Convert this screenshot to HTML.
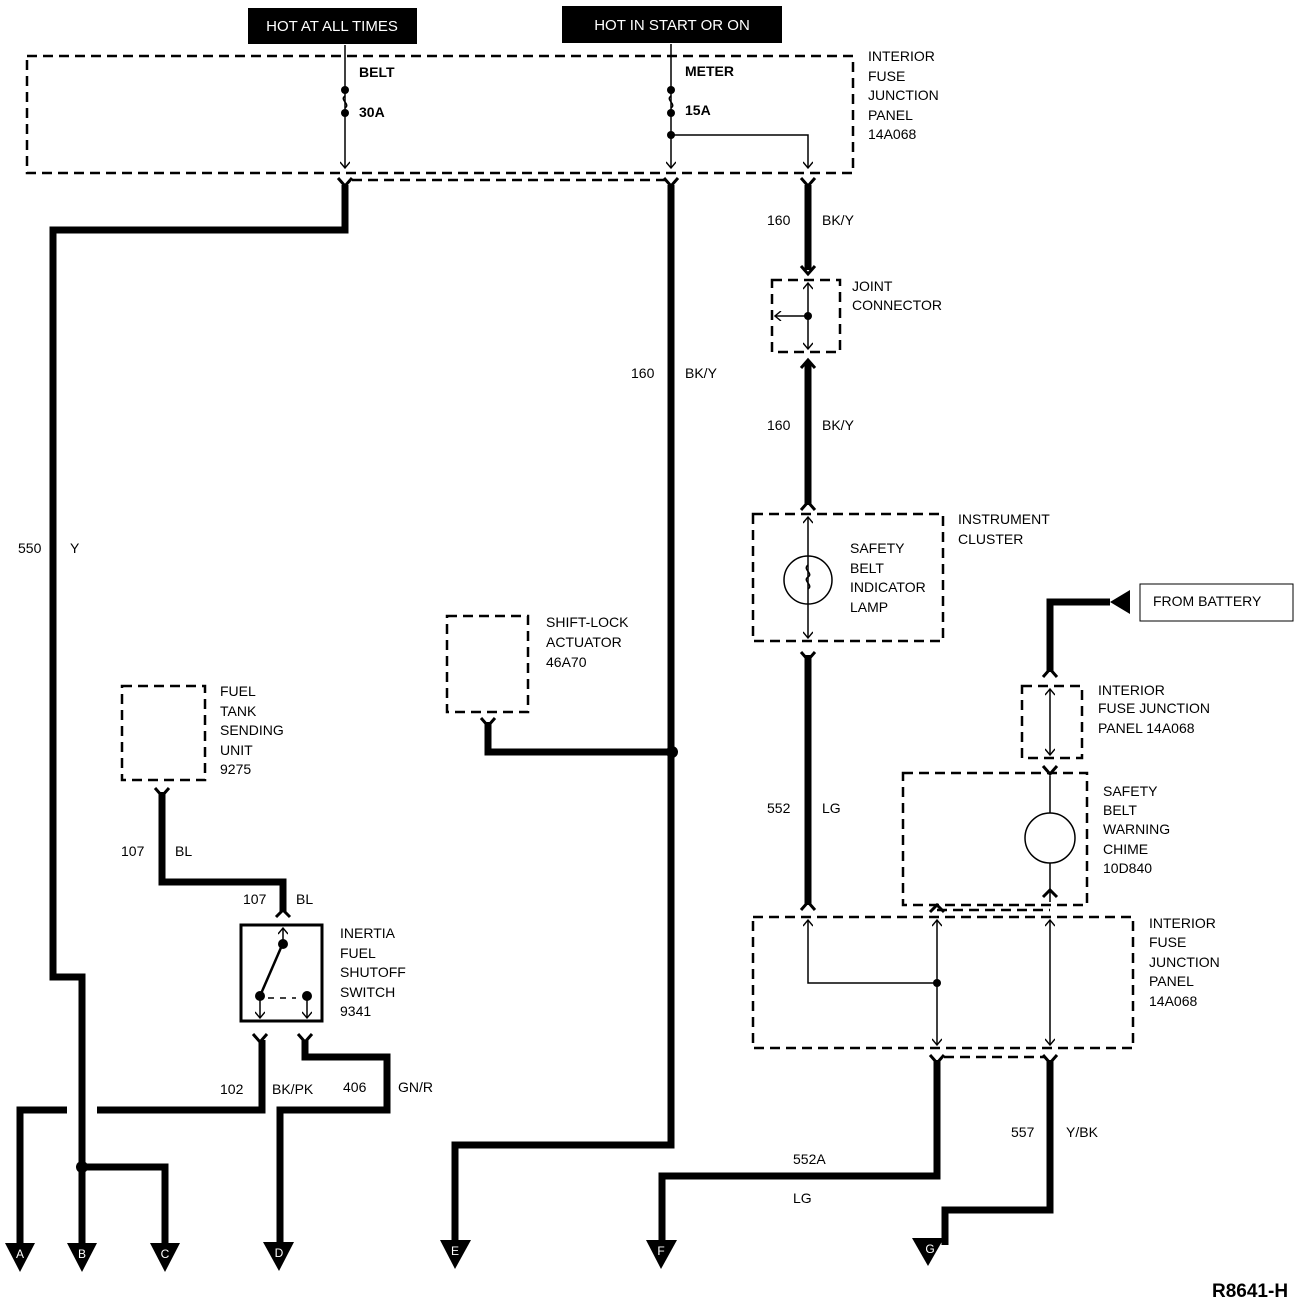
<!DOCTYPE html>
<html><head><style>
body{margin:0;background:#fff}
svg{display:block}
text{font-family:"Liberation Sans",Arial,sans-serif;font-size:14px;fill:#000}
</style></head><body>
<svg width="1312" height="1306" viewBox="0 0 1312 1306" xmlns="http://www.w3.org/2000/svg">
<defs>
<marker id="ah" viewBox="0 0 10 10" refX="9" refY="5" markerWidth="10" markerHeight="10" markerUnits="userSpaceOnUse" orient="auto"><path d="M3,0 L9,5 L3,10" fill="none" stroke="#000" stroke-width="1.4"/></marker>
</defs>
<g fill="#000">
<rect x="248" y="8" width="169" height="36"/>
<rect x="562" y="6" width="220" height="37"/>
</g>
<text x="332" y="31" text-anchor="middle" style="fill:#fff;font-size:15px">HOT AT ALL TIMES</text>
<text x="672" y="30" text-anchor="middle" style="fill:#fff;font-size:15px">HOT IN START OR ON</text>

<g fill="none" stroke="#000" stroke-width="2.5" stroke-dasharray="10,6">
<rect x="27" y="56" width="826" height="117"/>
<line x1="352" y1="180" x2="665" y2="180"/>
<rect x="772" y="280" width="68" height="72"/>
<rect x="753" y="514" width="190" height="127"/>
<rect x="447" y="616" width="81" height="96"/>
<rect x="122" y="686" width="83" height="94"/>
<rect x="1022" y="686" width="60" height="72"/>
<rect x="903" y="773" width="184" height="132"/>
<rect x="753" y="917" width="380" height="131"/>
<line x1="937" y1="910" x2="1050" y2="910"/>
<line x1="944" y1="1057" x2="1044" y2="1057"/>
</g>

<g fill="none" stroke="#000" stroke-width="1.5">
<line x1="345" y1="45" x2="345" y2="168" marker-end="url(#ah)"/>
<line x1="671" y1="44" x2="671" y2="168" marker-end="url(#ah)"/>
<path d="M671,135 H808 V168" marker-end="url(#ah)"/>
<path d="M345,96 c-6,4 6,8 0,12" />
<path d="M671,96 c-6,4 6,8 0,12" />
<line x1="808" y1="316" x2="808" y2="283" marker-end="url(#ah)"/>
<line x1="808" y1="316" x2="808" y2="349" marker-end="url(#ah)"/>
<line x1="808" y1="316" x2="775" y2="316" marker-end="url(#ah)"/>
<line x1="808" y1="580" x2="808" y2="517" marker-end="url(#ah)"/>
<line x1="808" y1="580" x2="808" y2="638" marker-end="url(#ah)"/>
<circle cx="808" cy="580" r="24"/>
<path d="M808,565 c-6,5 6,8 0,12 c-6,4 6,8 0,12"/>
<line x1="1050" y1="722" x2="1050" y2="689" marker-end="url(#ah)"/>
<line x1="1050" y1="722" x2="1050" y2="755" marker-end="url(#ah)"/>
<line x1="1050" y1="776" x2="1050" y2="813"/>
<line x1="1050" y1="863" x2="1050" y2="902"/>
<circle cx="1050" cy="838" r="25"/>
<path d="M937,983 H808 V920" marker-end="url(#ah)"/>
<line x1="937" y1="983" x2="937" y2="920" marker-end="url(#ah)"/>
<line x1="937" y1="983" x2="937" y2="1045" marker-end="url(#ah)"/>
<line x1="1050" y1="983" x2="1050" y2="920" marker-end="url(#ah)"/>
<line x1="1050" y1="983" x2="1050" y2="1045" marker-end="url(#ah)"/>
<line x1="283" y1="943" x2="283" y2="928" marker-end="url(#ah)"/>
<line x1="260" y1="996" x2="260" y2="1018" marker-end="url(#ah)"/>
<line x1="307" y1="996" x2="307" y2="1018" marker-end="url(#ah)"/>
<line x1="260" y1="996" x2="283" y2="943" stroke-width="2.5"/>
<line x1="268" y1="998" x2="296" y2="998" stroke-dasharray="6,6"/>
</g>
<rect x="241" y="925" width="81" height="96" fill="none" stroke="#000" stroke-width="3"/>
<rect x="1140" y="584" width="153" height="37" fill="none" stroke="#000" stroke-width="1"/>

<g fill="#000">
<circle cx="345" cy="90" r="4"/><circle cx="345" cy="113" r="4"/>
<circle cx="671" cy="90" r="4"/><circle cx="671" cy="113" r="4"/><circle cx="671" cy="135" r="4"/>
<circle cx="808" cy="316" r="4"/>
<circle cx="937" cy="983" r="4"/>
<circle cx="283" cy="944" r="5"/><circle cx="260" cy="996" r="5"/><circle cx="307" cy="996" r="5"/>
<circle cx="672" cy="752" r="6"/>
<circle cx="82" cy="1167" r="6"/>
<path d="M1110,602 L1130,590 L1130,614 Z"/>
</g>

<g fill="none" stroke="#000" stroke-width="7" stroke-linejoin="miter">
<path d="M345,185 V230 H53 V977 H82 V1245"/>
<path d="M82,1167 H165 V1245"/>
<path d="M20,1245 V1110 H67"/>
<path d="M97,1110 H262 V1040"/>
<path d="M305,1040 V1057 H387 V1110 H280 V1245"/>
<path d="M671,185 V1145 H455 V1245"/>
<path d="M488,722 V752 H672"/>
<path d="M162,792 V882 H283 V912"/>
<path d="M808,185 V270"/>
<path d="M808,362 V505"/>
<path d="M808,655 V905"/>
<path d="M1050,672 V602 H1110"/>
<path d="M937,1060 V1176 H662 V1245"/>
<path d="M1050,1060 V1210 H945 V1245"/>
</g>
<g fill="none" stroke="#000" stroke-width="3">
<path d="M338,178 L345,186 L352,178"/>
<path d="M664,178 L671,186 L678,178"/>
<path d="M801,178 L808,186 L815,178"/>
<path d="M801,266 L808,274 L815,266"/>
<path d="M801,368 L808,360 L815,368"/>
<path d="M801,510 L808,502 L815,510"/>
<path d="M801,652 L808,660 L815,652"/>
<path d="M801,910 L808,902 L815,910"/>
<path d="M1043,677 L1050,669 L1057,677"/>
<path d="M1043,766 L1050,774 L1057,766"/>
<path d="M1043,897 L1050,890 L1057,897"/>
<path d="M930,912 L937,905 L944,912"/>
<path d="M930,1055 L937,1063 L944,1055"/>
<path d="M1043,1055 L1050,1063 L1057,1055"/>
<path d="M481,718 L488,726 L495,718"/>
<path d="M155,788 L162,796 L169,788"/>
<path d="M276,917 L283,910 L290,917"/>
<path d="M253,1034 L260,1042 L267,1034"/>
<path d="M298,1034 L305,1042 L312,1034"/>
</g>
<g fill="#000">
<path d="M5,1243 H35 L20,1272 Z"/>
<path d="M67,1243 H97 L82,1272 Z"/>
<path d="M150,1243 H180 L165,1272 Z"/>
<path d="M263,1242 H294 L279,1271 Z"/>
<path d="M440,1240 H471 L455,1269 Z"/>
<path d="M646,1240 H677 L661,1269 Z"/>
<path d="M912,1238 H944 L928,1266 Z"/>
</g>
<g text-anchor="middle">
<text x="20" y="1258" style="fill:#fff;font-size:12px">A</text>
<text x="82" y="1258" style="fill:#fff;font-size:12px">B</text>
<text x="165" y="1258" style="fill:#fff;font-size:12px">C</text>
<text x="279" y="1257" style="fill:#fff;font-size:12px">D</text>
<text x="455" y="1255" style="fill:#fff;font-size:12px">E</text>
<text x="661" y="1255" style="fill:#fff;font-size:12px">F</text>
<text x="930" y="1253" style="fill:#fff;font-size:12px">G</text>
</g>

<g font-weight="bold">
<text x="359" y="77">BELT</text>
<text x="359" y="117">30A</text>
<text x="685" y="76">METER</text>
<text x="685" y="115">15A</text>
</g>
<text x="868" y="61">INTERIOR</text>
<text x="868" y="81">FUSE</text>
<text x="868" y="100">JUNCTION</text>
<text x="868" y="120">PANEL</text>
<text x="868" y="139">14A068</text>
<text x="767" y="225">160</text><text x="822" y="225">BK/Y</text>
<text x="852" y="291">JOINT</text>
<text x="852" y="310">CONNECTOR</text>
<text x="767" y="430">160</text><text x="822" y="430">BK/Y</text>
<text x="631" y="378">160</text><text x="685" y="378">BK/Y</text>
<text x="18" y="553">550</text><text x="70" y="553">Y</text>
<text x="958" y="524">INSTRUMENT</text>
<text x="958" y="544">CLUSTER</text>
<text x="850" y="553">SAFETY</text>
<text x="850" y="573">BELT</text>
<text x="850" y="592">INDICATOR</text>
<text x="850" y="612">LAMP</text>
<text x="1153" y="606">FROM BATTERY</text>
<text x="546" y="627">SHIFT-LOCK</text>
<text x="546" y="647">ACTUATOR</text>
<text x="546" y="667">46A70</text>
<text x="220" y="696">FUEL</text>
<text x="220" y="716">TANK</text>
<text x="220" y="735">SENDING</text>
<text x="220" y="755">UNIT</text>
<text x="220" y="774">9275</text>
<text x="1098" y="695">INTERIOR</text>
<text x="1098" y="713">FUSE JUNCTION</text>
<text x="1098" y="733">PANEL 14A068</text>
<text x="1103" y="796">SAFETY</text>
<text x="1103" y="815">BELT</text>
<text x="1103" y="834">WARNING</text>
<text x="1103" y="854">CHIME</text>
<text x="1103" y="873">10D840</text>
<text x="767" y="813">552</text><text x="822" y="813">LG</text>
<text x="121" y="856">107</text><text x="175" y="856">BL</text>
<text x="243" y="904">107</text><text x="296" y="904">BL</text>
<text x="340" y="938">INERTIA</text>
<text x="340" y="958">FUEL</text>
<text x="340" y="977">SHUTOFF</text>
<text x="340" y="997">SWITCH</text>
<text x="340" y="1016">9341</text>
<text x="1149" y="928">INTERIOR</text>
<text x="1149" y="947">FUSE</text>
<text x="1149" y="967">JUNCTION</text>
<text x="1149" y="986">PANEL</text>
<text x="1149" y="1006">14A068</text>
<text x="220" y="1094">102</text><text x="272" y="1094">BK/PK</text>
<text x="343" y="1092">406</text><text x="398" y="1092">GN/R</text>
<text x="1011" y="1137">557</text><text x="1066" y="1137">Y/BK</text>
<text x="793" y="1164">552A</text>
<text x="793" y="1203">LG</text>
<text x="1212" y="1297" style="font-size:19px;font-weight:bold">R8641-H</text>
</svg>
</body></html>
